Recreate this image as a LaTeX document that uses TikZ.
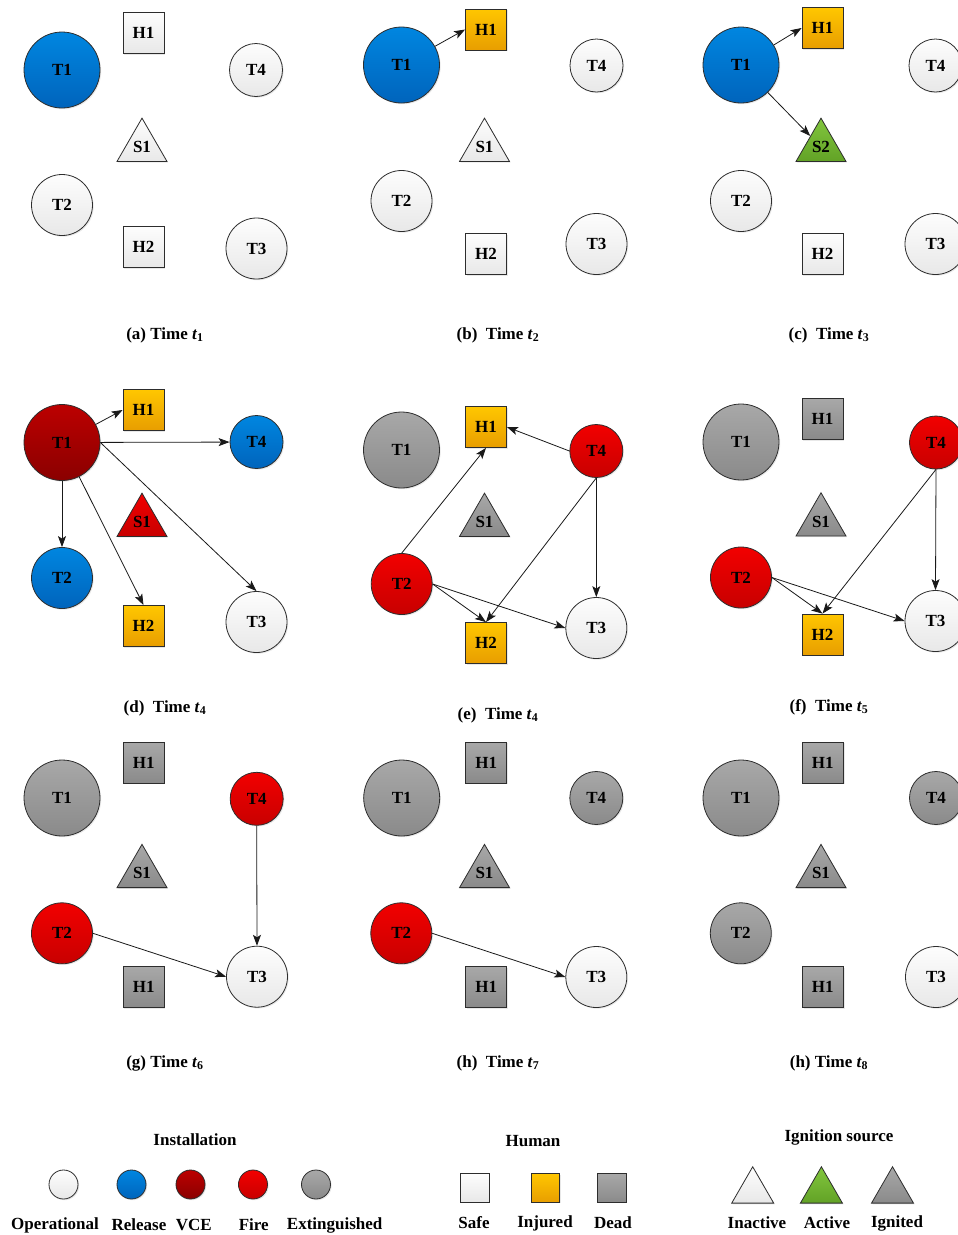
\documentclass[tikz,border=0pt]{standalone}
\usepackage{fontspec}
\setmainfont{Liberation Serif}
\usepackage{tikz}
\usetikzlibrary{shapes.geometric,arrows.meta,shadows}

\definecolor{edge}{RGB}{45,45,45}
\definecolor{okTop}{RGB}{253,253,253}
\definecolor{okBot}{RGB}{232,232,232}
\definecolor{relTop}{RGB}{0,134,224}
\definecolor{relBot}{RGB}{0,100,188}
\definecolor{vceTop}{RGB}{188,0,0}
\definecolor{vceBot}{RGB}{138,0,0}
\definecolor{fireTop}{RGB}{242,0,0}
\definecolor{fireBot}{RGB}{200,0,0}
\definecolor{extTop}{RGB}{168,168,168}
\definecolor{extBot}{RGB}{138,138,138}
\definecolor{injTop}{RGB}{255,198,0}
\definecolor{injBot}{RGB}{232,158,0}
\definecolor{actTop}{RGB}{130,198,62}
\definecolor{actBot}{RGB}{98,162,38}

\newcommand{\tstep}[1]{\textit{t}\textsubscript{#1}}

\tikzstyle{unit} = [draw=edge, line width=0.8pt, inner sep=0pt,
  font=\bfseries\fontsize{17}{20}\selectfont,
  drop shadow={shadow xshift=1.2pt, shadow yshift=-1.2pt, opacity=0.18}]
\tikzstyle{bigtank} = [unit, circle, minimum size=76pt]
\tikzstyle{midtank} = [unit, circle, minimum size=61pt]
\tikzstyle{smalltank} = [unit, circle, minimum size=53pt]
\tikzstyle{worker} = [unit, rectangle, minimum size=41pt]
\tikzstyle{spark} = [unit, regular polygon, regular polygon sides=3, minimum size=57.7pt]
\tikzstyle{keytank} = [unit, circle, minimum size=29pt]
\tikzstyle{keyworker} = [unit, rectangle, minimum size=28.5pt]
\tikzstyle{keyspark} = [unit, regular polygon, regular polygon sides=3, minimum size=48.5pt]
\tikzstyle{label} = [font=\bfseries\fontsize{17}{20}\selectfont]
\tikzstyle{ok} = [top color=okTop, bottom color=okBot]
\tikzstyle{release} = [top color=relTop, bottom color=relBot]
\tikzstyle{vce} = [top color=vceTop, bottom color=vceBot]
\tikzstyle{fire} = [top color=fireTop, bottom color=fireBot]
\tikzstyle{ext} = [top color=extTop, bottom color=extBot]
\tikzstyle{hurt} = [top color=injTop, bottom color=injBot]
\tikzstyle{active} = [top color=actTop, bottom color=actBot]
\tikzstyle{arrow} = [line width=0.8pt, draw=black!90, -{Stealth[length=11pt, width=8pt, inset=2.5pt]}]

\begin{document}
\begin{tikzpicture}[x=1pt, y=-1pt]
\useasboundingbox (0,0) rectangle (958,1235);
\clip (0,0) rectangle (958,1235);

% (a) time t1
\node [bigtank, release] (aT1) at (62,70) {T1};
\node [worker, ok] (aH1) at (143.5,33) {H1};
\node [smalltank, ok] (aT4) at (256,70) {T4};
\node [spark, ok] (aS1) at (142,147) {S1};
\node [midtank, ok] (aT2) at (62,205) {T2};
\node [worker, ok] (aH2) at (143.5,247) {H2};
\node [midtank, ok] (aT3) at (256.5,248.5) {T3};
\node [label] (aCap) at (165,335) {(a) Time \tstep{1}};

% (b) time t2
\node [bigtank, release] (bT1) at (401.5,65) {T1};
\node [worker, hurt] (bH1) at (486,29.5) {H1};
\node [smalltank, ok] (bT4) at (596.5,65.5) {T4};
\node [spark, ok] (bS1) at (484.5,147) {S1};
\node [midtank, ok] (bT2) at (401.5,201) {T2};
\node [worker, ok] (bH2) at (486,254) {H2};
\node [midtank, ok] (bT3) at (596.5,244) {T3};
\node [label] (bCap) at (498,335) {(b)\ \ Time \tstep{2}};

\draw [arrow] (bT1) -- (bH1.west);

% (c) time t3
\node [bigtank, release] (cT1) at (741,65) {T1};
\node [worker, hurt] (cH1) at (822.5,28) {H1};
\node [smalltank, ok] (cT4) at (935.5,65.5) {T4};
\node [spark, active] (cS2) at (821,147) {S2};
\node [midtank, ok] (cT2) at (741,201) {T2};
\node [worker, ok] (cH2) at (822.5,254) {H2};
\node [midtank, ok] (cT3) at (935.5,244) {T3};
\node [label] (cCap) at (829,335) {(c)\ \ Time \tstep{3}};

\draw [arrow] (cT1) -- (cH1.west);
\draw [arrow] (cT1) -- (cS2);

% (d) time t4
\node [bigtank, vce] (dT1) at (62,442.5) {T1};
\node [worker, hurt] (dH1) at (143.5,410) {H1};
\node [smalltank, release] (dT4) at (256.5,442) {T4};
\node [spark, fire] (dS1) at (142,522) {S1};
\node [midtank, release] (dT2) at (62,578) {T2};
\node [worker, hurt] (dH2) at (143.5,626) {H2};
\node [midtank, ok] (dT3) at (256.5,622) {T3};
\node [label] (dCap) at (165,708) {(d)\ \ Time \tstep{4}};

\draw [arrow] (dT1) -- (dH1.west);
\draw [arrow] (dT1) -- (dT4);
\draw [arrow] (dT1) -- (dT2);
\draw [arrow] (dT1) -- (dH2.north);
\draw [arrow] (dT1.east) -- (dT3.north);

% (e) time t4
\node [bigtank, ext] (eT1) at (401.5,450) {T1};
\node [worker, hurt] (eH1) at (486,427) {H1};
\node [smalltank, fire] (eT4) at (596.3,451) {T4};
\node [spark, ext] (eS1) at (484.5,522) {S1};
\node [midtank, fire] (eT2) at (401.7,584) {T2};
\node [worker, hurt] (eH2) at (486,643) {H2};
\node [midtank, ok] (eT3) at (596.3,628) {T3};
\node [label] (eCap) at (498,715) {(e)\ \ Time \tstep{4}};

\draw [arrow] (eT2.north) -- (eH1.south);
\draw [arrow] (eT4.west) -- (eH1.east);
\draw [arrow] (eT4.south) -- (eT3.north);
\draw [arrow] (eT4.south) -- (eH2.north);
\draw [arrow] (eT2.east) -- (eH2.north);
\draw [arrow] (eT2.east) -- (eT3.west);

% (f) time t5
\node [bigtank, ext] (fT1) at (741,442) {T1};
\node [worker, ext] (fH1) at (822.5,419) {H1};
\node [smalltank, fire] (fT4) at (936,442.5) {T4};
\node [spark, ext] (fS1) at (821,521.6) {S1};
\node [midtank, fire] (fT2) at (741,577.5) {T2};
\node [worker, hurt] (fH2) at (822.5,634.5) {H2};
\node [midtank, ok] (fT3) at (935.5,621) {T3};
\node [label] (fCap) at (829,707) {(f)\ \ Time \tstep{5}};

\draw [arrow] (fT4.south) -- (fH2.north);
\draw [arrow] (fT4.south) -- (fT3.north);
\draw [arrow] (fT2.east) -- (fH2.north);
\draw [arrow] (fT2.east) -- (fT3.west);

% (g) time t6
\node [bigtank, ext] (gT1) at (62,798) {T1};
\node [worker, ext] (gH1) at (143.7,762.7) {H1};
\node [smalltank, fire] (gT4) at (256.7,798.8) {T4};
\node [spark, ext] (gS1) at (142,873.2) {S1};
\node [midtank, fire] (gT2) at (62,933.3) {T2};
\node [worker, ext] (gH2) at (143.7,987) {H1};
\node [midtank, ok] (gT3) at (257,976.7) {T3};
\node [label] (gCap) at (165,1063) {(g) Time \tstep{6}};

\draw [arrow] (gT4.south) -- (gT3.north);
\draw [arrow] (gT2.east) -- (gT3.west);

% (h) time t7
\node [bigtank, ext] (hT1) at (401.7,798) {T1};
\node [worker, ext] (hH1) at (486.2,762.5) {H1};
\node [smalltank, ext] (hT4) at (596.3,798) {T4};
\node [spark, ext] (hS1) at (484.5,873.2) {S1};
\node [midtank, fire] (hT2) at (401.3,933.3) {T2};
\node [worker, ext] (hH2) at (486.2,987) {H1};
\node [midtank, ok] (hT3) at (596.3,977) {T3};
\node [label] (hCap) at (498,1063) {(h)\ \ Time \tstep{7}};

\draw [arrow] (hT2.east) -- (hT3.west);

% (h) time t8
\node [bigtank, ext] (iT1) at (741,798) {T1};
\node [worker, ext] (iH1) at (822.8,762.5) {H1};
\node [smalltank, ext] (iT4) at (936,798) {T4};
\node [spark, ext] (iS1) at (821,873.2) {S1};
\node [midtank, ext] (iT2) at (740.8,933.3) {T2};
\node [worker, ext] (iH2) at (822.8,987) {H1};
\node [midtank, ok] (iT3) at (936,977) {T3};
\node [label] (iCap) at (829,1063) {(h) Time \tstep{8}};

% legend
\node [label] (installation) at (195,1140) {Installation};
\node [keytank, ok] (kOper) at (63.5,1184.5) {};
\node [keytank, release] (kRel) at (131.5,1184.5) {};
\node [keytank, vce] (kVce) at (190.5,1184.5) {};
\node [keytank, fire] (kFire) at (253,1184.5) {};
\node [keytank, ext] (kExt) at (316,1184.5) {};
\node [label] (lOper) at (55,1225) {Operational};
\node [label] (lRel) at (139,1225) {Release};
\node [label] (lVce) at (193.7,1225) {VCE};
\node [label] (lFire) at (253.7,1225) {Fire};
\node [label] (lExt) at (334.7,1225) {Extinguished};

\node [label] (human) at (533,1141) {Human};
\node [keyworker, ok] (kSafe) at (474.7,1188) {};
\node [keyworker, hurt] (kInj) at (545.5,1188) {};
\node [keyworker, ext] (kDead) at (612,1188) {};
\node [label] (lSafe) at (474,1223) {Safe};
\node [label] (lInj) at (545,1223) {Injured};
\node [label] (lDead) at (613,1223) {Dead};

\node [label] (ignition) at (839,1137) {Ignition source};
\node [keyspark, ok] (kInact) at (752.7,1191) {};
\node [keyspark, active] (kAct) at (821.4,1191) {};
\node [keyspark, ext] (kIgn) at (892.5,1191) {};
\node [label] (lInact) at (757,1223) {Inactive};
\node [label] (lAct) at (827,1223) {Active};
\node [label] (lIgn) at (897,1223) {Ignited};

\end{tikzpicture}
\end{document}
